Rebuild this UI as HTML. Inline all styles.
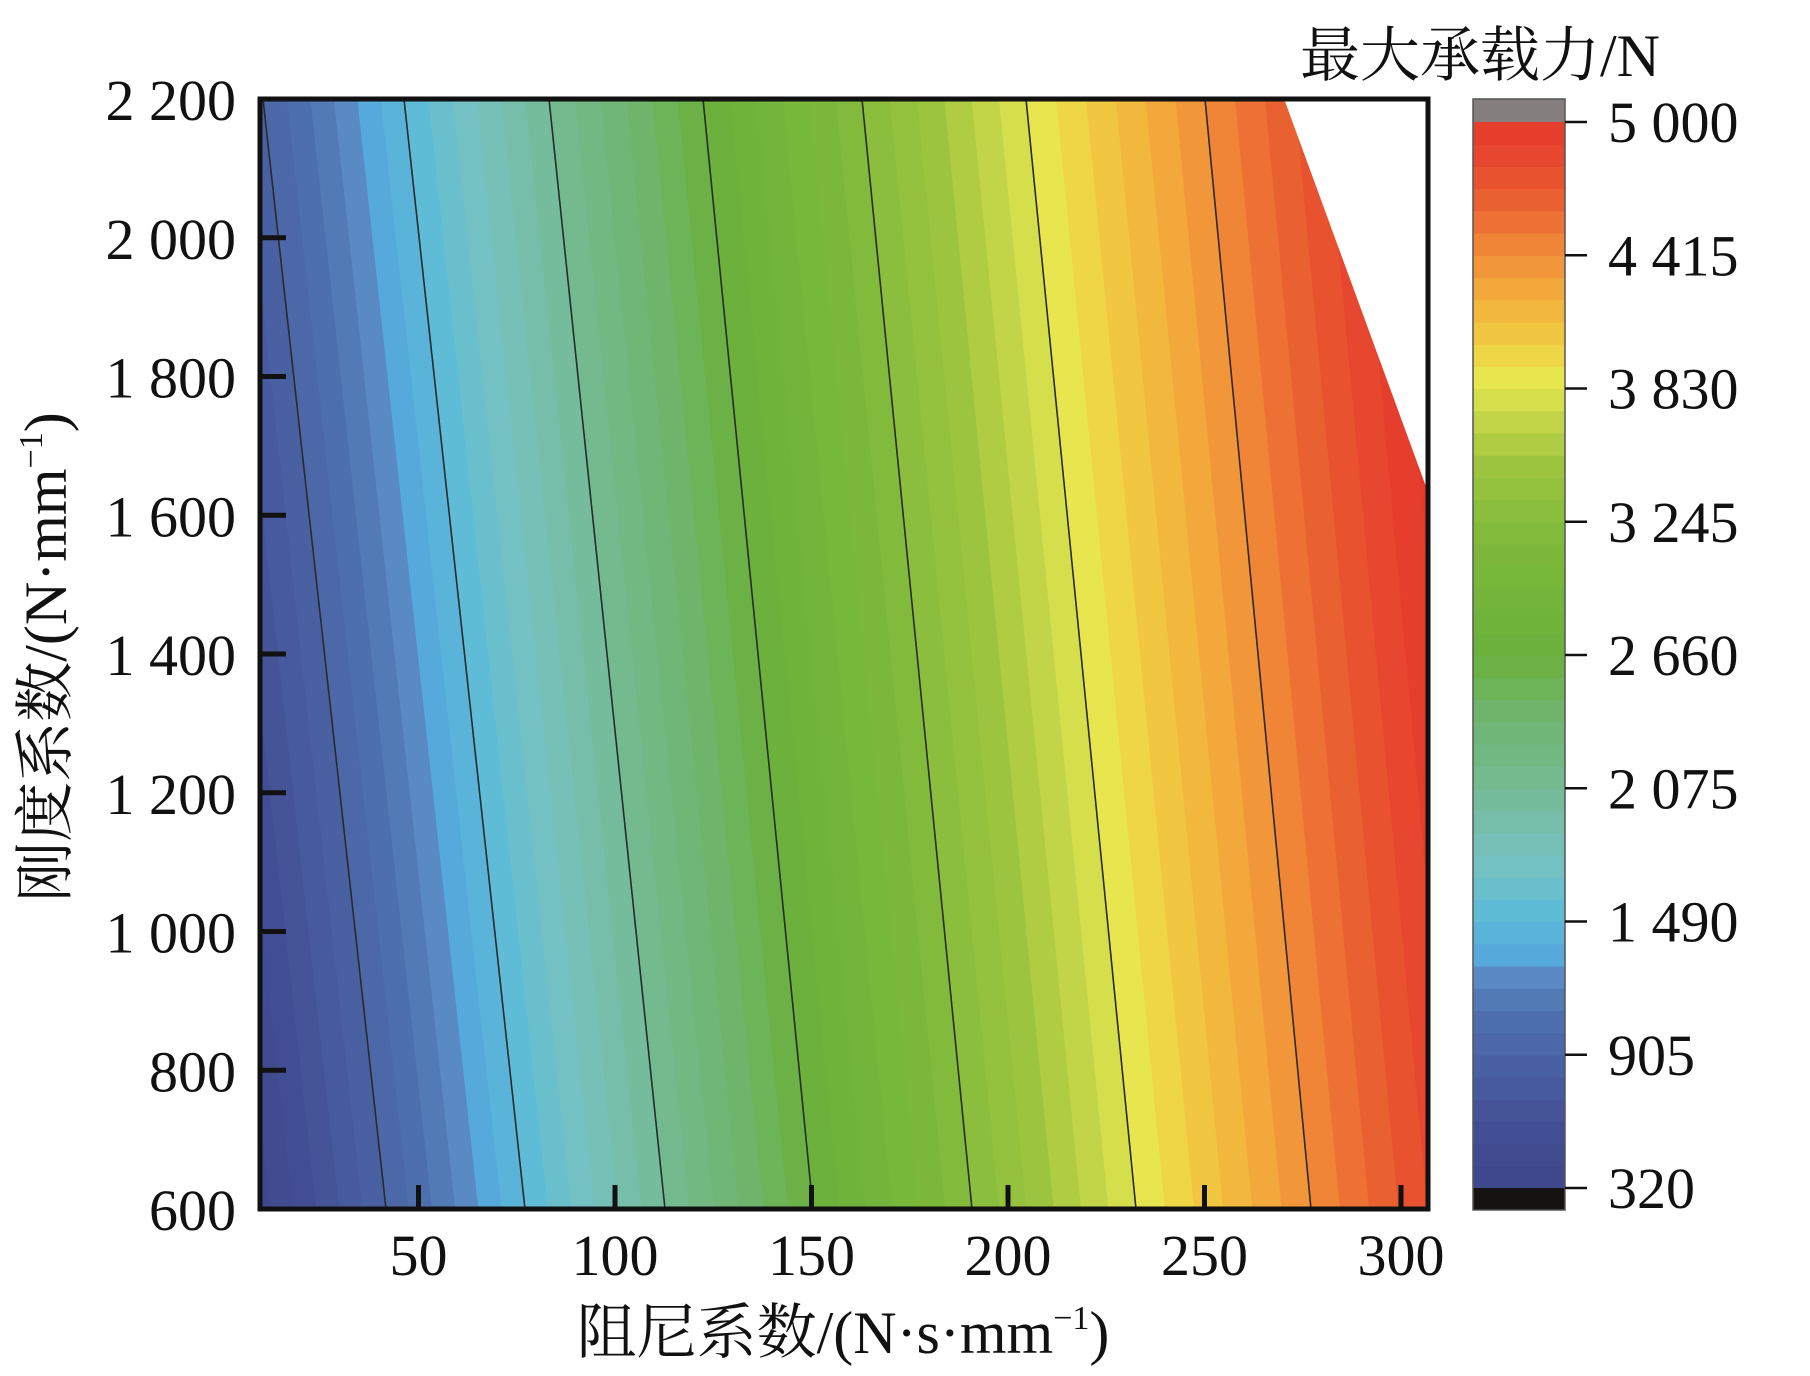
<!DOCTYPE html>
<html><head><meta charset="utf-8">
<style>
html,body{margin:0;padding:0;background:#fff;}
svg{display:block;}
text{font-family:"Liberation Serif","Noto Serif CJK SC","Noto Sans CJK SC",serif;fill:#111;}
</style></head>
<body>
<svg id="s" width="1810" height="1376" viewBox="0 0 1810 1376" xmlns="http://www.w3.org/2000/svg">
<defs><clipPath id="cp"><rect x="260" y="99" width="1168" height="1110"/></clipPath></defs>
<g id="bands" clip-path="url(#cp)"></g>
<g id="cont" clip-path="url(#cp)" stroke="#2a2a2a" stroke-width="1.6" fill="none"></g>
<polygon points="1283,96 1432,96 1432,503" fill="#fff"/>
<rect x="260" y="99" width="1168" height="1110" fill="none" stroke="#111" stroke-width="5"/>
<g id="ticks" stroke="#111" stroke-width="5"></g>
<g id="cbar"></g>
<g id="labels" font-size="58"></g>
<text x="1300" y="76" font-size="60">最大承载力/N</text>
<text transform="translate(66,657) rotate(-90)" font-size="60" text-anchor="middle">刚度系数/(N·mm<tspan font-size="34" dy="-24">−1</tspan><tspan dy="24">)</tspan></text>
<text x="843" y="1353" font-size="60" text-anchor="middle">阻尼系数/(N·s·mm<tspan font-size="34" dy="-24">−1</tspan><tspan dy="24">)</tspan></text>
</svg>
<script>
(function(){
var NS="http://www.w3.org/2000/svg";
function el(t,a,p){var e=document.createElementNS(NS,t);for(var k in a)e.setAttribute(k,a[k]);p.appendChild(e);return e;}
var stops=[[0,"#3f478c"],[0.06,"#434f94"],[0.12,"#4a63a4"],[0.17,"#5074b0"],[0.2,"#5a8cc4"],[0.22,"#55acdc"],[0.26,"#5fbcd6"],[0.31,"#78c2c0"],[0.37,"#74bb97"],[0.45,"#6eb46a"],[0.5,"#6ab03b"],[0.6,"#7cb93a"],[0.68,"#9ec43f"],[0.72,"#c3d648"],[0.76,"#e8e64e"],[0.79,"#f1d043"],[0.83,"#f2b33c"],[0.87,"#f2923a"],[0.91,"#ec6e33"],[0.95,"#e8502f"],[1,"#e5392c"]];
function hx(h){return [parseInt(h.substr(1,2),16),parseInt(h.substr(3,2),16),parseInt(h.substr(5,2),16)];}
function cmap(f){for(var i=1;i<stops.length;i++){if(f<=stops[i][0]){var a=stops[i-1],b=stops[i],t=(f-a[0])/(b[0]-a[0]);var A=hx(a[1]),B=hx(b[1]);return "rgb("+A.map(function(v,j){return Math.round(v+(B[j]-v)*t)}).join(",")+")";}}return stops[stops.length-1][1];}
var lv=[905,1490,2075,2660,3245,3830,4415];
var xb=[386,525,665,813,972,1136,1311];
var xt=[263,404,549,703,862,1026,1205];
function interp(xs,v){var n=lv.length;if(v<=lv[0])return xs[0]+(v-lv[0])*(xs[1]-xs[0])/(lv[1]-lv[0]);
 if(v>=lv[n-1])return xs[n-1]+(v-lv[n-1])*(xs[n-1]-xs[n-2])/(lv[n-1]-lv[n-2]);
 for(var i=1;i<n;i++)if(v<=lv[i])return xs[i-1]+(v-lv[i-1])*(xs[i]-xs[i-1])/(lv[i]-lv[i-1]);}
var g=document.getElementById("bands");
var N=48,step=(5000-320)/N;
for(var k=-2;k<N+3;k++){var v0=320+k*step,v1=v0+step;
 var b0=interp(xb,v0),b1=interp(xb,v1),t0=interp(xt,v0),t1=interp(xt,v1);
 if(k==-2){b0-=400;t0-=400;} if(k==N+2){b1+=400;t1+=400;}
 var f=Math.max(0,Math.min(1,(k+0.5)/N));
 el("polygon",{points:b0+",1212 "+t0+",96 "+(t1+0.8)+",96 "+(b1+0.8)+",1212",fill:cmap(f)},g);}
var c=document.getElementById("cont");
for(var i=0;i<lv.length;i++)el("line",{x1:xb[i],y1:1209,x2:xt[i],y2:99},c);
var tk=document.getElementById("ticks"),lb=document.getElementById("labels");
var yl=["600","800","1 000","1 200","1 400","1 600","1 800","2 000","2 200"];
for(var i=0;i<9;i++){var y=1209-i*138.75;
 if(i>0&&i<8)el("line",{x1:260,y1:y,x2:286,y2:y},tk);
 var t=el("text",{x:236,y:y+21,"text-anchor":"end"},lb);t.textContent=yl[i];}
var xl=[50,100,150,200,250,300];
for(var i=0;i<6;i++){var x=222+xl[i]*3.93;
 el("line",{x1:x,y1:1209,x2:x,y2:1185},tk);
 var t=el("text",{x:x,y:1275,"text-anchor":"middle"},lb);t.textContent=xl[i];}
var cb=document.getElementById("cbar");
var cbTop=122,cbBot=1188,bh=(cbBot-cbTop)/N;
el("rect",{x:1473,y:99,width:92,height:23,fill:"#857e7e"},cb);
for(var k=0;k<N;k++){el("rect",{x:1473,y:cbBot-(k+1)*bh,width:92,height:bh+0.6,fill:cmap((k+0.5)/N)},cb);}
el("rect",{x:1473,y:1188,width:92,height:22,fill:"#151212"},cb);
el("rect",{x:1473,y:99,width:92,height:1111,fill:"none",stroke:"#555",'stroke-width':1.5},cb);
var cl=["320","905","1 490","2 075","2 660","3 245","3 830","4 415","5 000"];
for(var i=0;i<9;i++){var y=1188-i*133.25;
 el("line",{x1:1565,y1:y,x2:1587,y2:y,stroke:"#111","stroke-width":2.5},cb);
 var t=el("text",{x:1608,y:y+20},lb);t.textContent=cl[i];}
})();
</script>
</body></html>
